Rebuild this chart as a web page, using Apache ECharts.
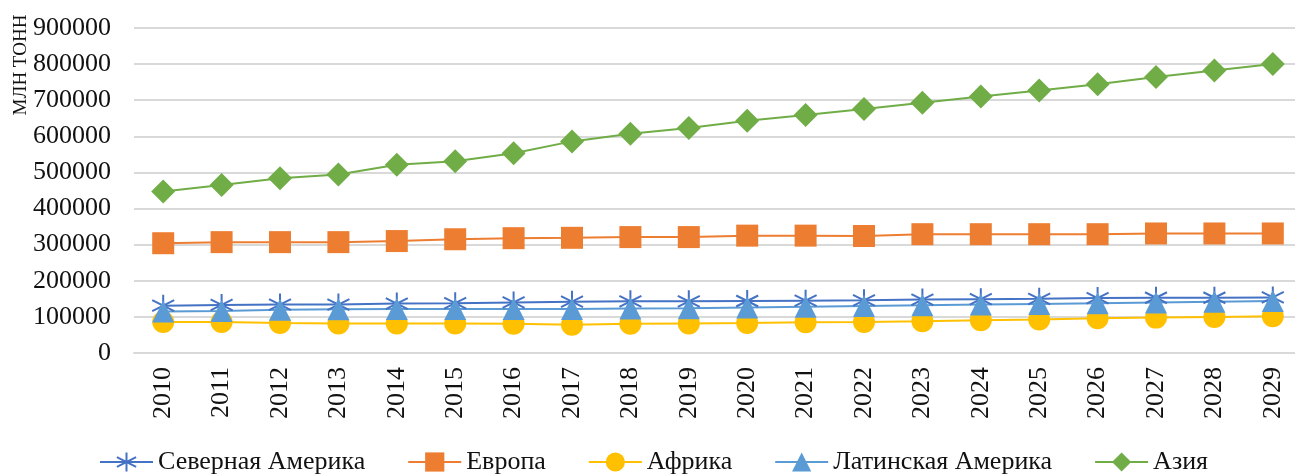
<!DOCTYPE html>
<html>
<head>
<meta charset="utf-8">
<script src="https://cdn.jsdelivr.net/npm/echarts@6/dist/echarts.min.js"></script>
<style>html,body{margin:0;padding:0;background:#fff}#c{width:1295px;height:475px}</style>
</head>
<body>
<div id="c"></div>
<script>
const years = ['2010','2011','2012','2013','2014','2015','2016','2017','2018','2019','2020','2021','2022','2023','2024','2025','2026','2027','2028','2029'];
const northAmerica = [131000,133000,134000,134000,137000,138000,140000,142000,143000,143000,144000,145000,146000,148000,149000,150000,152000,153000,153000,154000];
const europe = [304000,307000,307000,307000,310000,315000,318000,319000,321000,321000,325000,325000,324000,329000,329000,329000,329000,331000,331000,331000];
const africa = [86000,86000,83000,82000,82000,82000,81000,78000,81000,82000,83000,85000,86000,88000,91000,93000,96000,98000,100000,102000];
const latinAmerica = [115000,116000,120000,121000,122000,122000,122000,122000,123000,124000,126000,128000,130000,132000,134000,136000,138000,140000,142000,144000];
const asia = [447000,465000,484000,494000,521000,531000,553000,586000,607000,623000,643000,659000,676000,693000,710000,727000,744000,764000,782000,800000];
const seriesNames = ['Северная Америка','Европа','Африка','Латинская Америка','Азия'];
const yUnit = 'МЛН ТОНН';

const font = 'Liberation Serif, Times New Roman, serif';
const chart = echarts.init(document.getElementById('c'), null, {renderer:'canvas'});
const star = 'path://M0,-10L0,10M-8.66,-5L8.66,5M-8.66,5L8.66,-5';
function mk(name, data, color, symbol, size, extra) {
  return Object.assign({
    name, type:'line', data, symbol, symbolSize:size,
    lineStyle:{color, width:2}, itemStyle:{color},
    showAllSymbol:true, animation:false, z: 2
  }, extra || {});
}
chart.setOption({
  animation:false,
  textStyle:{fontFamily:font},
  grid:{left:134, top:28, width:1168, height:325, containLabel:false, outerBoundsMode:'none'},
  xAxis:{
    type:'category', data:years, boundaryGap:true,
    axisLine:{show:true, lineStyle:{color:'#d9d9d9', width:2}},
    axisTick:{show:false},
    axisLabel:{rotate:90, color:'#111', fontSize:26, fontFamily:font, margin:14, interval:0}
  },
  yAxis:{
    type:'value', min:0, max:900000, interval:100000,
    axisLine:{show:false}, axisTick:{show:false},
    splitLine:{lineStyle:{color:'#d9d9d9', width:2}},
    axisLabel:{color:'#111', fontSize:26, fontFamily:font, margin:23, formatter:function(v){return String(v);}}
  },
  legend:{
    top:444, left:94, itemWidth:53, itemHeight:24, itemGap:42,
    textStyle:{fontSize:26, color:'#111', fontFamily:font},
    data:seriesNames
  },
  graphic:[{
    type:'text', rotation:Math.PI/2, x:21, y:65,
    style:{text:yUnit, font:'19px '+font, fill:'#111', textAlign:'center', textVerticalAlign:'middle'}
  }],
  series:[
    mk(seriesNames[0], northAmerica, '#4472C4', star, 22, {itemStyle:{color:'#4472C4', borderColor:'#4472C4', borderWidth:2}}),
    mk(seriesNames[1], europe, '#ED7D31', 'rect', 22),
    mk(seriesNames[2], africa, '#FFC000', 'circle', 22),
    mk(seriesNames[3], latinAmerica, '#5B9BD5', 'triangle', 22),
    mk(seriesNames[4], asia, '#70AD47', 'diamond', 24)
  ]
});
</script>
</body>
</html>
